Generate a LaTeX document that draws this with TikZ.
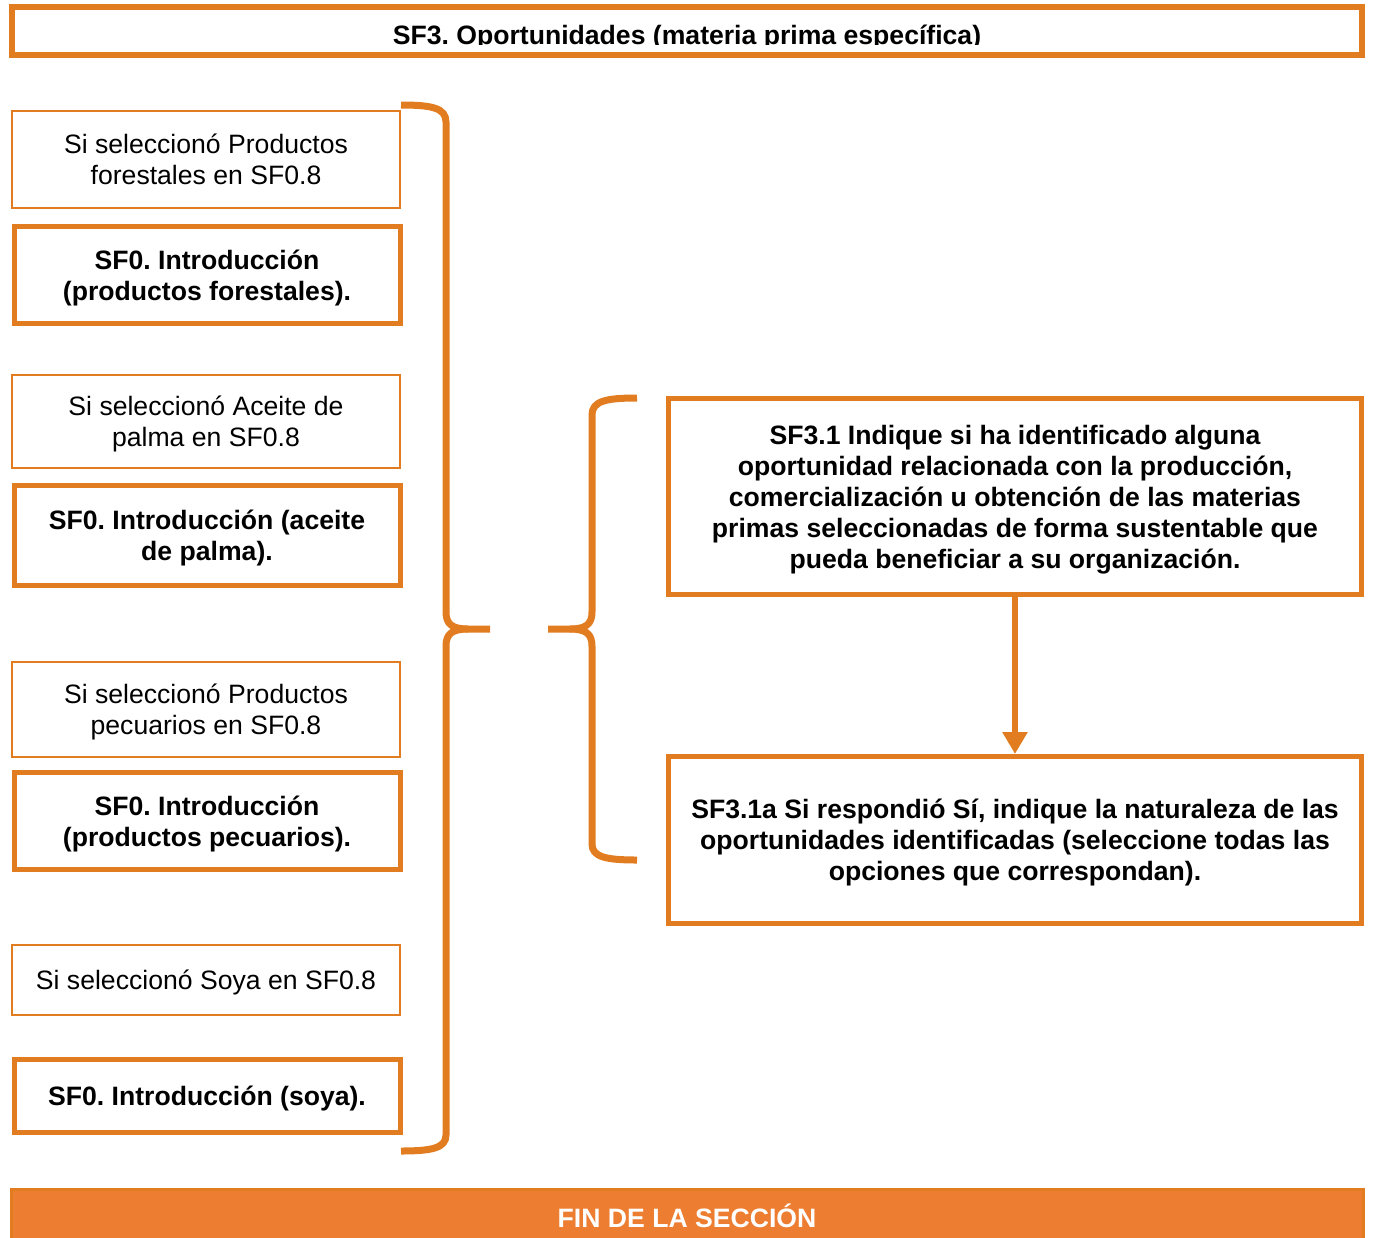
\documentclass[tikz,border=0pt]{standalone}
\usepackage{fontspec}
\setmainfont{Liberation Sans}
\usetikzlibrary{arrows.meta}
\frenchspacing
\definecolor{sforange}{RGB}{226,124,32}
\definecolor{sffill}{RGB}{237,125,49}
\newcommand{\sftext}{\fontsize{13.3}{15.5}\selectfont}
\tikzset{
  txt/.style={font=\sftext, align=center, inner sep=0pt, text depth=0pt},
  cond/.style={txt, draw=sforange, line width=1pt, minimum width=194pt},
  intro/.style={txt, draw=sforange, line width=2.5pt, minimum width=193pt, font=\sftext\bfseries},
  question/.style={intro, minimum width=346.5pt},
  finbar/.style={txt, font=\sftext\bfseries, text=white, draw=sforange, fill=sffill, line width=1.5pt, minimum width=676pt},
  brace/.style={draw=sforange, line width=3.5pt, line join=round},
  flow/.style={draw=sforange, line width=3pt, -{Triangle[width=12pt,length=11pt]}},
}
\begin{document}
\begin{tikzpicture}[x=0.5pt,y=-0.5pt]
  \useasboundingbox (0,0) rectangle (1373,1238);

  \node[intro, line width=3pt, minimum width=675pt, minimum height=24pt] (title) at (687,31) {};
  \begin{scope}
    \clip (15,10) rectangle (1359,44.5);
    \node[txt, font=\sftext\bfseries, anchor=base] (titletext) at (687,44) {SF3. Oportunidades (materia prima específica)};
  \end{scope}

  \node[cond, minimum height=48.5pt] (forcond) at (206,159) {Si seleccionó Productos\\forestales en SF0.8};
  \node[intro, minimum height=48.5pt] (forintro) at (207,275) {SF0. Introducción\\(productos forestales).};
  \node[cond, minimum height=46.5pt] (palcond) at (206,421) {Si seleccionó Aceite de\\palma en SF0.8};
  \node[intro, minimum height=50pt] (palintro) at (207,535.5) {SF0. Introducción (aceite\\de palma).};
  \node[cond, minimum height=47.5pt] (peccond) at (206,709) {Si seleccionó Productos\\pecuarios en SF0.8};
  \node[intro, minimum height=48.5pt] (pecintro) at (207,821) {SF0. Introducción\\(productos pecuarios).};
  \node[cond, minimum height=35pt] (soycond) at (206,979.5) {Si seleccionó Soya en SF0.8};
  \node[intro, minimum height=36.5pt] (soyintro) at (207,1096) {SF0. Introducción (soya).};

  \node[question, minimum height=98pt] (q31) at (1015,496.5) {SF3.1 Indique si ha identificado alguna\\oportunidad relacionada con la producción,\\comercialización u obtención de las materias\\primas seleccionadas de forma sustentable que\\pueda beneficiar a su organización.};
  \node[question, minimum height=83.5pt] (q31a) at (1015,840) {SF3.1a Si respondió Sí, indique la naturaleza de las\\oportunidades identificadas (seleccione todas las\\opciones que correspondan).};

  \draw[flow] (q31) -- (q31a);

  \draw[brace] (401,105) .. controls (432,105) and (446,108) .. (446,122) -- (446,612)
    .. controls (446,624) and (452,629) .. (468,629) -- (490,629);
  \draw[brace] (468,629) .. controls (452,629) and (446,634) .. (446,646) -- (446,1135)
    .. controls (446,1148) and (432,1151) .. (401,1151);
  \draw[brace] (637,398) .. controls (606,398) and (592,401) .. (592,415) -- (592,612)
    .. controls (592,624) and (586,629) .. (570,629) -- (548,629);
  \draw[brace] (570,629) .. controls (586,629) and (592,634) .. (592,646) -- (592,844)
    .. controls (592,857) and (606,860) .. (637,860);

  \node[finbar, minimum height=29pt, text height=9.5pt] (fin) at (687,1218) {FIN DE LA SECCIÓN};
\end{tikzpicture}
\end{document}
